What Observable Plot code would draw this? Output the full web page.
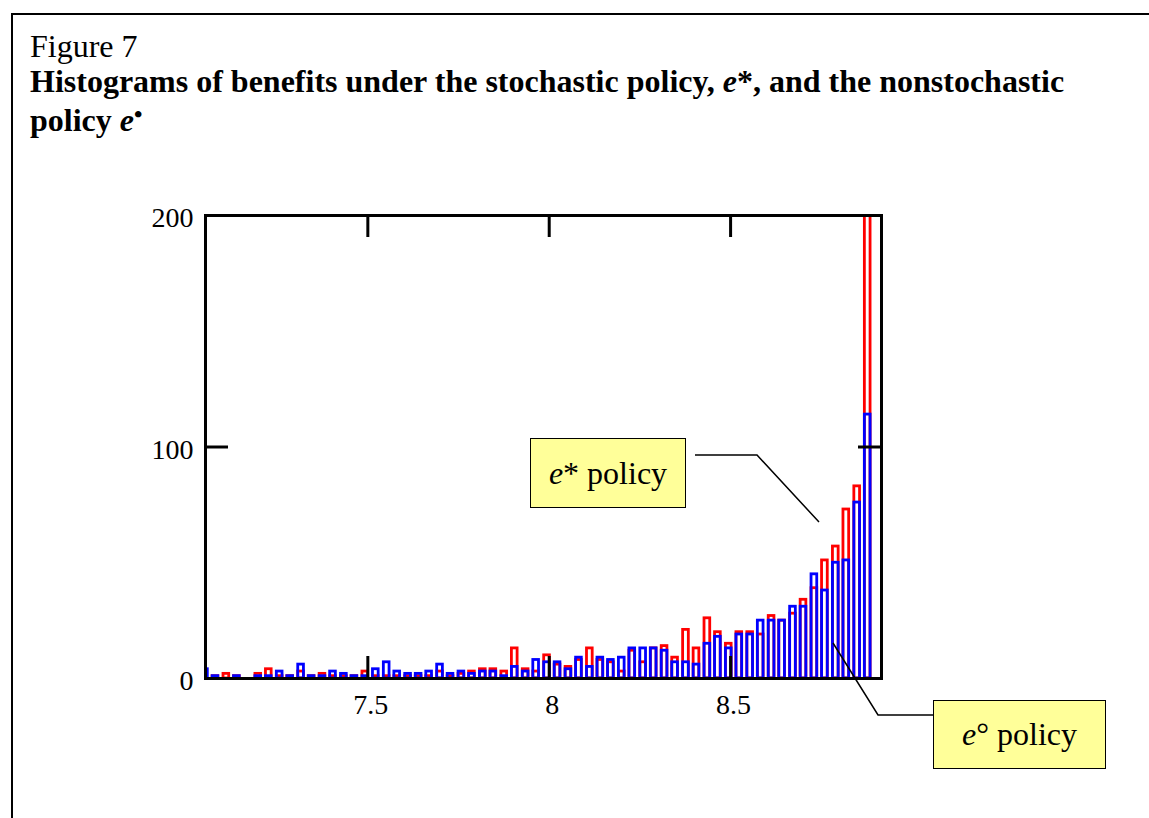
<!DOCTYPE html>
<html>
<head>
<meta charset="utf-8">
<script src="https://cdn.jsdelivr.net/npm/d3@7"></script>
<script src="https://cdn.jsdelivr.net/npm/@observablehq/plot@0.6"></script>
<style>
  body { margin: 0; background: #fff; }
  #page { position: relative; width: 1149px; height: 818px; overflow: hidden; font-family: "Liberation Serif", "Times New Roman", serif; color: #000; }
  #border { position: absolute; left: 11px; top: 13px; right: -10px; bottom: -10px; border-top: 2px solid #000; border-left: 2px solid #000; }
  #fig { position: absolute; left: 30px; top: 30px; font-size: 32px; line-height: 32px; white-space: nowrap; }
  #title { position: absolute; left: 30px; top: 62px; font-size: 32px; font-weight: bold; line-height: 39px; white-space: nowrap; }
  #chart { position: absolute; left: 0; top: 0; }
  .box { position: absolute; background: #FFFF99; border: 1.5px solid #000; box-sizing: border-box; display: flex; align-items: center; justify-content: center; font-size: 32px; white-space: nowrap; }
  #leaders { position: absolute; left: 0; top: 0; pointer-events: none; }
</style>
</head>
<body>
<div id="page">
  <div id="border"></div>
  <div id="fig">Figure 7</div>
  <div id="title">Histograms of benefits under the stochastic policy, <i>e</i>*, and the nonstochastic<br>policy <i>e</i><span style="font-size:24px;position:relative;top:-9px;line-height:0">&#8226;</span></div>
  <div id="chart"></div>
  <svg id="leaders" width="1149" height="818">
    <polyline points="695,455 757,455 819,522" fill="none" stroke="#000" stroke-width="1.5"/>
    <polyline points="933,715 878,715 833,643" fill="none" stroke="#000" stroke-width="1.5"/>
  </svg>
  <div class="box" style="left:530px;top:438px;width:156px;height:70px;"><span><i>e</i>* policy</span></div>
  <div class="box" style="left:933px;top:700px;width:173px;height:69px;"><span><i>e</i>&#176; policy</span></div>
</div>
<script>
// Bin centers (benefit values)
const binCenters = [
  7.051, 7.080, 7.110, 7.139, 7.168, 7.198, 7.227, 7.257, 7.286, 7.316,
  7.345, 7.375, 7.404, 7.434, 7.463, 7.493, 7.522, 7.552, 7.581, 7.611,
  7.640, 7.669, 7.699, 7.728, 7.758, 7.787, 7.817, 7.846, 7.876, 7.905,
  7.935, 7.964, 7.994, 8.023, 8.053, 8.082, 8.112, 8.141, 8.170, 8.200,
  8.229, 8.259, 8.288, 8.318, 8.347, 8.377, 8.406, 8.436, 8.465, 8.495,
  8.524, 8.554, 8.583, 8.613, 8.642, 8.672, 8.701, 8.731, 8.760, 8.790,
  8.819, 8.849, 8.878
];
const binWidth = 0.0295;
// Counts under the stochastic policy e* (red)
const redCounts = [
  0, 1, 2, 1, 0, 2, 4, 1, 1, 3,
  1, 2, 1, 1, 1, 3, 1, 1, 1, 1,
  1, 1, 3, 1, 2, 3, 4, 4, 3, 13,
  4, 3, 10, 6, 5, 8, 13, 8, 7, 3,
  12, 7, 13, 14, 9, 21, 13, 26, 20, 15,
  20, 20, 19, 27, 25, 28, 34, 39, 51, 57,
  73, 83, 220
];
// Counts under the nonstochastic policy e° (blue)
const blueCounts = [
  4, 1, 0, 1, 0, 1, 1, 3, 1, 6,
  1, 1, 3, 2, 1, 1, 4, 7, 3, 2,
  2, 3, 6, 2, 3, 2, 3, 3, 1, 5,
  3, 8, 7, 7, 4, 9, 5, 9, 8, 9,
  13, 13, 13, 12, 7, 7, 6, 15, 18, 13,
  19, 19, 25, 25, 25, 31, 31, 45, 38, 50,
  51, 76, 114
];
const xTicks = [7.5, 8, 8.5];
const yTicks = [0, 100, 200];

const rows = binCenters.map((c, i) => ({
  x1: c - binWidth / 2, x2: c + binWidth / 2, red: redCounts[i], blue: blueCounts[i]
}));

const barStyle = {fill: "none", strokeWidth: 2.8, insetLeft: 2.5, insetRight: 2.5, clip: true};

const chart = Plot.plot({
  width: 1149,
  height: 818,
  marginLeft: 205,
  marginRight: 268,
  marginTop: 215,
  marginBottom: 140,
  x: {domain: [7.0525, 8.916]},
  y: {domain: [0, 200]},
  style: {fontFamily: "'Liberation Serif', 'Times New Roman', serif", fontSize: "28px", color: "#000", background: "transparent", overflow: "visible"},
  marks: [
    Plot.rectY(rows, {x1: "x1", x2: "x2", y: "red", stroke: "#ff0000", ...barStyle}),
    Plot.rectY(rows, {x1: "x1", x2: "x2", y: "blue", stroke: "#0000ff", ...barStyle}),
    Plot.ruleX(xTicks, {x: d => d, stroke: "#000", strokeWidth: 3, insetTop: 441}),
    Plot.ruleX(xTicks, {x: d => d, stroke: "#000", strokeWidth: 3, insetBottom: 441}),
    Plot.ruleY(yTicks, {y: d => d, stroke: "#000", strokeWidth: 3, insetRight: 653}),
    Plot.ruleY(yTicks, {y: d => d, stroke: "#000", strokeWidth: 3, insetLeft: 653}),
    Plot.frame({stroke: "#000", strokeWidth: 3}),
    Plot.axisX(xTicks, {anchor: "bottom", tickSize: 0, tickPadding: 16, dx: 3, tickFormat: d => String(d)}),
    Plot.axisY(yTicks, {anchor: "left", tickSize: 0, tickPadding: 12, dy: 3, tickFormat: d => String(d)})
  ]
});
document.getElementById("chart").appendChild(chart);
</script>
</body>
</html>
